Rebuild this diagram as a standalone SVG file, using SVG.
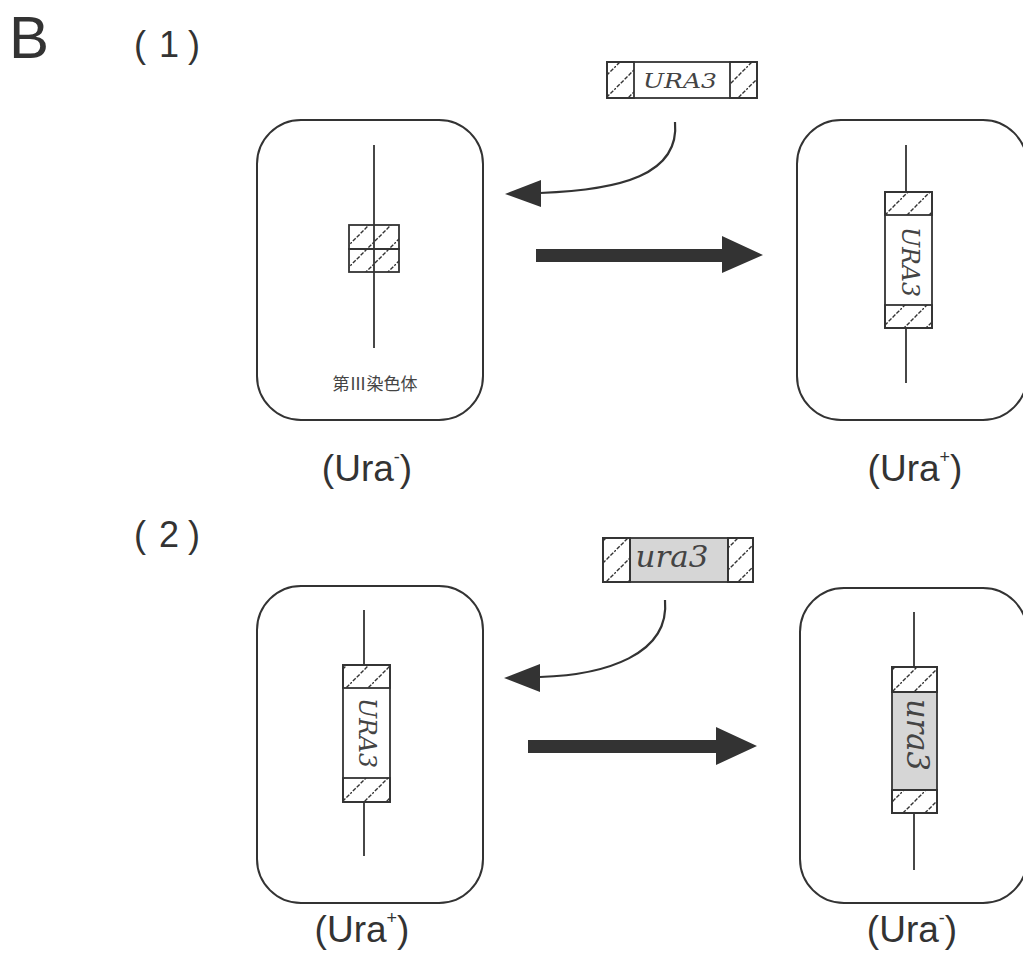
<svg xmlns="http://www.w3.org/2000/svg" width="1023" height="965" viewBox="0 0 1023 965">
<style>
.cell{fill:none;stroke:#333;stroke-width:2}
.ln{stroke:#333;stroke-width:1.8;fill:none}
.box{stroke:#333;stroke-width:1.8}
.hat{fill:url(#hatch);stroke:#333;stroke-width:1.8}
.g{font-family:"DejaVu Serif","Liberation Serif",serif;font-style:italic;fill:#444}
.lab{font-family:"Liberation Sans","Noto Sans CJK JP",sans-serif;fill:#333}
.curve{fill:none;stroke:#333;stroke-width:2.2}
.big{fill:#333}
</style>
<defs>
<pattern id="hatch" patternUnits="userSpaceOnUse" width="22" height="22">
<line x1="-3" y1="25" x2="25" y2="-3" stroke="#333" stroke-width="1.4" stroke-dasharray="4 1.5"/>
</pattern>
</defs>
<rect width="1023" height="965" fill="#fff"/>

<g id="titles">
<text x="9" y="58" class="lab" font-size="60">B</text>
<text x="134 159 188" y="57" class="lab" font-size="36">(1)</text>
<text x="134 159 188" y="547" class="lab" font-size="36">(2)</text>
</g>

<g id="cell1">
<rect x="257" y="120" width="226" height="300" rx="44" class="cell"/>
<line x1="374" y1="145" x2="374" y2="348" class="ln"/>
<rect x="349" y="225" width="50" height="24" class="hat"/>
<rect x="349" y="249" width="50" height="23" class="hat"/>
<text x="375" y="390" text-anchor="middle" font-size="17" font-family="Noto Sans CJK JP,sans-serif" fill="#444">第Ⅲ染色体</text>
<text x="367" y="481" text-anchor="middle" class="lab" font-size="37">(Ura<tspan font-size="18" dy="-18">-</tspan><tspan dy="18">)</tspan></text>
</g>

<g id="cell2">
<rect x="797" y="120" width="230" height="300" rx="44" class="cell"/>
<line x1="906" y1="145" x2="906" y2="383" class="ln"/>
<rect x="885" y="192" width="47" height="136" class="box" fill="#fff"/>
<rect x="885" y="192" width="47" height="23" class="hat"/>
<rect x="885" y="305" width="47" height="23" class="hat"/>
<text transform="translate(902,262) rotate(90)" text-anchor="middle" class="g" font-size="24" textLength="70" lengthAdjust="spacingAndGlyphs">URA3</text>
<text x="915" y="481" text-anchor="middle" class="lab" font-size="37">(Ura<tspan font-size="18" dy="-18">+</tspan><tspan dy="18">)</tspan></text>
</g>

<g id="frag1">
<rect x="607" y="62" width="150" height="36" class="box" fill="#fff"/>
<rect x="607" y="62" width="27" height="36" class="hat"/>
<rect x="730" y="62" width="27" height="36" class="hat"/>
<text x="680" y="88" text-anchor="middle" class="g" font-size="21" textLength="74" lengthAdjust="spacingAndGlyphs">URA3</text>
</g>

<g id="cell3">
<rect x="257" y="586" width="226" height="317" rx="44" class="cell"/>
<line x1="364" y1="610" x2="364" y2="856" class="ln"/>
<rect x="343" y="665" width="47" height="137" class="box" fill="#fff"/>
<rect x="343" y="665" width="47" height="23" class="hat"/>
<rect x="343" y="778" width="47" height="24" class="hat"/>
<text transform="translate(359,733) rotate(90)" text-anchor="middle" class="g" font-size="24" textLength="70" lengthAdjust="spacingAndGlyphs">URA3</text>
<text x="362" y="942" text-anchor="middle" class="lab" font-size="37">(Ura<tspan font-size="18" dy="-18">+</tspan><tspan dy="18">)</tspan></text>
</g>

<g id="cell4">
<rect x="800" y="588" width="227" height="315" rx="44" class="cell"/>
<line x1="914" y1="612" x2="914" y2="870" class="ln"/>
<rect x="892" y="667" width="45" height="146" class="box" fill="#d6d6d6"/>
<rect x="892" y="667" width="45" height="25" class="hat" style="fill:#fff"/>
<rect x="892" y="667" width="45" height="25" class="hat"/>
<rect x="892" y="790" width="45" height="23" class="hat" style="fill:#fff"/>
<rect x="892" y="790" width="45" height="23" class="hat"/>
<text transform="translate(907,735) rotate(90)" text-anchor="middle" class="g" font-size="31" textLength="72" lengthAdjust="spacingAndGlyphs">ura3</text>
<text x="912" y="942" text-anchor="middle" class="lab" font-size="37">(Ura<tspan font-size="18" dy="-18">-</tspan><tspan dy="18">)</tspan></text>
</g>

<g id="frag2">
<rect x="603" y="538" width="150" height="44" class="box" fill="#d6d6d6"/>
<rect x="603" y="538" width="27" height="44" class="hat" style="fill:#fff"/>
<rect x="603" y="538" width="27" height="44" class="hat"/>
<rect x="728" y="538" width="25" height="44" class="hat" style="fill:#fff"/>
<rect x="728" y="538" width="25" height="44" class="hat"/>
<text x="672" y="567" text-anchor="middle" class="g" font-size="30" textLength="73" lengthAdjust="spacingAndGlyphs">ura3</text>
</g>

<g id="connectors">
<path d="M675,122 C680,175 620,190 540,193" class="curve"/>
<path d="M505,194 L541,180 L541,207 Z" class="big"/>
<path d="M536,249 L722,249 L722,236 L763,255 L722,273 L722,262 L536,262 Z" class="big"/>
<path d="M665,600 C670,655 605,675 540,677" class="curve"/>
<path d="M504,678 L540,664 L540,692 Z" class="big"/>
<path d="M528,740 L716,740 L716,727 L757,746 L716,765 L716,753 L528,753 Z" class="big"/>
</g>
</svg>
